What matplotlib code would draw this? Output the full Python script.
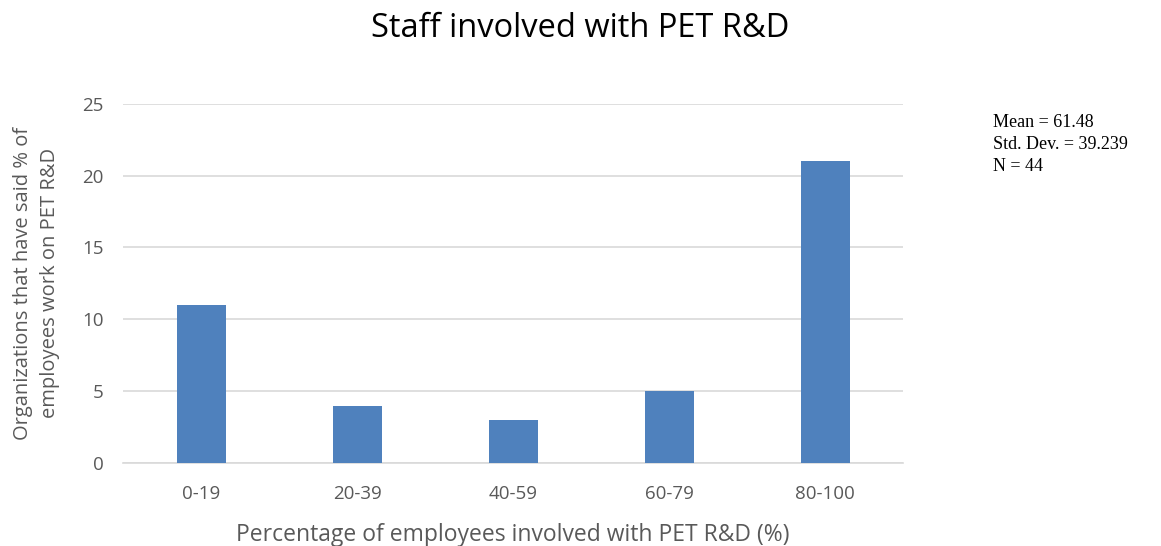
import matplotlib.pyplot as plt

categories = ['0-19', '20-39', '40-59', '60-79', '80-100']
counts = [11, 4, 3, 5, 21]
stats_lines = ['Mean = 61.48', 'Std. Dev. = 39.239', 'N = 44']

plt.rcParams['font.family'] = ['Open Sans', 'DejaVu Sans']
grey = '#595959'

fig = plt.figure(figsize=(11.61, 5.46), dpi=100)
ax = fig.add_axes([0.106, 0.152, 0.672, 0.658])

x = range(len(categories))
ax.bar(x, counts, width=0.315, color='#4F81BD', zorder=3)

ax.set_xlim(-0.5, len(categories) - 0.5)
ax.set_ylim(0, 25)
ax.set_yticks(range(0, 26, 5))
ax.set_xticks(list(x))
ax.set_xticklabels(categories)
ax.tick_params(axis='both', length=0, labelsize=13.5, colors=grey)
ax.tick_params(axis='x', pad=16)
ax.tick_params(axis='y', pad=14)
ax.grid(axis='y', color='#D9D9D9', linewidth=1.2, zorder=0)
for side in ['top', 'right', 'left']:
    ax.spines[side].set_visible(False)
ax.spines['bottom'].set_color('#D9D9D9')
ax.spines['bottom'].set_linewidth(1.2)

ax.set_xlabel('Percentage of employees involved with PET R&D (%)', fontsize=16.5, color=grey, labelpad=14)
ax.set_ylabel('Organizations that have said % of\nemployees work on PET R&D', fontsize=14.5, color=grey,
              labelpad=16, linespacing=1.45)

fig.text(0.5, 0.948, 'Staff involved with PET R&D', ha='center', va='center', fontsize=23.5, color='black')

fig.text(0.855, 0.792, '\n'.join(stats_lines), ha='left', va='top', fontsize=13,
         family='Liberation Serif', color='black', linespacing=1.42)

fig.savefig('out.png', dpi=100)
